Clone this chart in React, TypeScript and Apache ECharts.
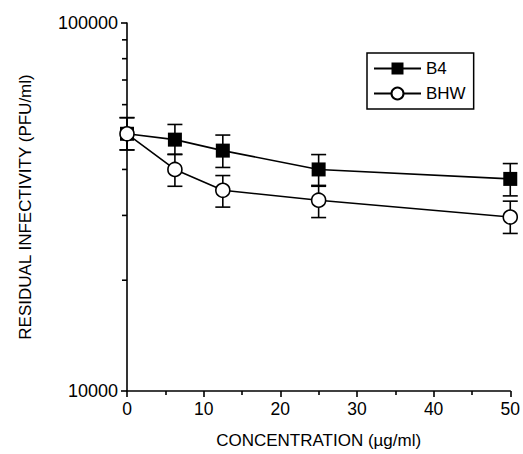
import React, { useEffect, useRef } from "react";
import * as echarts from "echarts";

const concentrations = [0, 6.25, 12.5, 25, 50];
const b4Values = [50000, 48200, 45000, 40000, 37700];
const b4Low = [45200, 43900, 40500, 36000, 33900];
const b4High = [55300, 53000, 49600, 43900, 41500];
const bhwValues = [50000, 40000, 35100, 33000, 29700];
const bhwLow = [45200, 36000, 31600, 29600, 26800];
const bhwHigh = [55300, 44000, 38500, 36200, 32800];
const yMinorTicks = [20000, 30000, 40000, 50000, 60000, 70000, 80000, 90000];
const seriesNames = ["B4", "BHW"];

const FONT = '"Liberation Sans", Arial, Helvetica, sans-serif';

function errorData(xs: number[], lo: number[], hi: number[]) {
  return xs.map((x, i) => [x, lo[i], hi[i]]);
}

function renderError(params: any, api: any) {
  const x = api.value(0);
  const lo = api.coord([x, api.value(1)]);
  const hi = api.coord([x, api.value(2)]);
  const half = 7.5;
  const style = { stroke: "#000", lineWidth: 1.6 };
  return {
    type: "group",
    children: [
      { type: "line", shape: { x1: lo[0], y1: lo[1], x2: hi[0], y2: hi[1] }, style },
      { type: "line", shape: { x1: lo[0] - half, y1: lo[1], x2: lo[0] + half, y2: lo[1] }, style },
      { type: "line", shape: { x1: hi[0] - half, y1: hi[1], x2: hi[0] + half, y2: hi[1] }, style },
    ],
  };
}

export default function App() {
  const ref = useRef<HTMLDivElement>(null);
  useEffect(() => {
    if (!ref.current) return;
    const chart = echarts.init(ref.current, undefined, { renderer: "svg" });
    chart.setOption({
      animation: false,
      backgroundColor: "#fff",
      textStyle: { fontFamily: FONT, color: "#000" },
      grid: { left: 127, right: 11, top: 23, bottom: 57, containLabel: false },
      legend: {
        orient: "vertical",
        left: 367,
        top: 53,
        padding: [7, 8, 7, 6],
        itemGap: 8,
        itemWidth: 47,
        itemHeight: 15,
        borderColor: "#000",
        borderWidth: 1.5,
        data: seriesNames,
        textStyle: { fontSize: 17, color: "#000", fontFamily: FONT },
      },
      xAxis: {
        type: "value",
        min: 0,
        max: 50,
        interval: 10,
        name: "CONCENTRATION (µg/ml)",
        nameLocation: "middle",
        nameGap: 41,
        nameTextStyle: { fontSize: 17, color: "#000", fontFamily: FONT },
        axisLine: { show: true, lineStyle: { color: "#000", width: 1.6 } },
        axisTick: { show: true, length: 6, lineStyle: { color: "#000", width: 1.6 } },
        minorTick: { show: true, splitNumber: 2, length: 4, lineStyle: { color: "#000", width: 1.6 } },
        axisLabel: { fontSize: 17.5, color: "#000", margin: 9, fontFamily: FONT },
        splitLine: { show: false },
      },
      yAxis: {
        type: "log",
        logBase: 10,
        min: 10000,
        max: 100000,
        name: "RESIDUAL INFECTIVITY (PFU/ml)",
        nameLocation: "middle",
        nameGap: 93,
        nameTextStyle: { fontSize: 17, color: "#000", fontFamily: FONT },
        axisLine: { show: true, lineStyle: { color: "#000", width: 1.6 } },
        axisTick: { show: true, length: 6, lineStyle: { color: "#000", width: 1.6 } },
        axisLabel: {
          fontSize: 18,
          color: "#000",
          margin: 9,
          fontFamily: FONT,
          formatter: (v: number) => String(Math.round(v)),
        },
        splitLine: { show: false },
      },
      series: [
        {
          type: "custom",
          name: "minorY",
          renderItem: (params: any, api: any) => {
            const p = api.coord([0, api.value(1)]);
            return {
              type: "line",
              shape: { x1: p[0] - 5, y1: p[1], x2: p[0], y2: p[1] },
              style: { stroke: "#000", lineWidth: 1.6 },
            };
          },
          clip: false,
          silent: true,
          encode: { x: 0, y: 1 },
          data: yMinorTicks.map((v) => [0, v]),
          z: 1,
        },
        {
          type: "custom",
          name: "b4err",
          renderItem: renderError,
          clip: false,
          silent: true,
          encode: { x: 0, y: [1, 2] },
          data: errorData(concentrations, b4Low, b4High),
          z: 2,
        },
        {
          type: "custom",
          name: "bhwerr",
          renderItem: renderError,
          clip: false,
          silent: true,
          encode: { x: 0, y: [1, 2] },
          data: errorData(concentrations, bhwLow, bhwHigh),
          z: 2,
        },
        {
          type: "line",
          name: seriesNames[0],
          data: concentrations.map((x, i) => [x, b4Values[i]]),
          symbol: "rect",
          symbolSize: 14,
          itemStyle: { color: "#000", borderColor: "#000", borderWidth: 0 },
          lineStyle: { color: "#000", width: 1.6 },
          clip: false,
          z: 3,
        },
        {
          type: "line",
          name: seriesNames[1],
          data: concentrations.map((x, i) => [x, bhwValues[i]]),
          symbol: "circle",
          symbolSize: 14,
          itemStyle: { color: "#fff", borderColor: "#000", borderWidth: 1.6 },
          lineStyle: { color: "#000", width: 1.6 },
          clip: false,
          z: 4,
        },
      ],
    });
    return () => chart.dispose();
  }, []);
  return <div ref={ref} style={{ width: 523, height: 454, position: "absolute", left: 0, top: 0 }} />;
}
